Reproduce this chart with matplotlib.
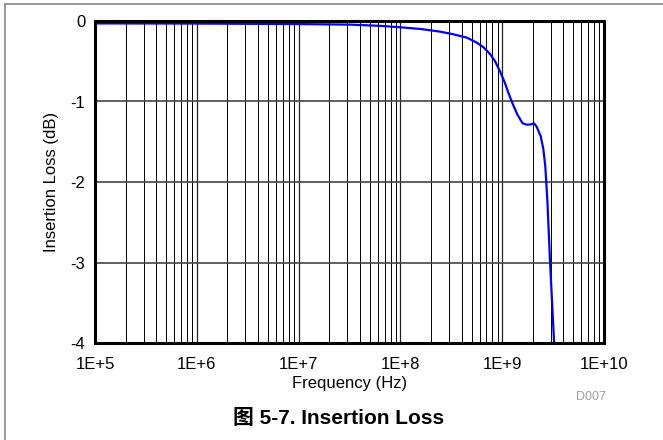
import matplotlib
matplotlib.use("Agg")
import matplotlib.pyplot as plt
from matplotlib.lines import Line2D
from matplotlib.ticker import FixedLocator, FuncFormatter, LogLocator, NullFormatter

plt.rcParams['font.family'] = ['Liberation Sans', 'Noto Sans CJK SC', 'DejaVu Sans']
plt.rcParams['axes.unicode_minus'] = False

# insertion loss curve
freq_hz = [1e5, 1e6, 1e7, 3.2e7, 6.3e7, 1e8, 1.6e8, 2.45e8, 3.31e8, 4.48e8,
           5.62e8, 6.53e8, 7.59e8, 8.51e8, 9.51e8, 1.064e9, 1.148e9, 1.259e9,
           1.406e9, 1.585e9, 1.738e9, 1.905e9, 2.051e9, 2.183e9, 2.388e9,
           2.535e9, 2.649e9, 2.773e9, 2.951e9, 3.236e9]
loss_db = [-0.03, -0.032, -0.038, -0.045, -0.06, -0.078, -0.10, -0.132, -0.165, -0.206,
           -0.268, -0.325, -0.41, -0.50, -0.625, -0.77, -0.89, -1.02,
           -1.16, -1.27, -1.288, -1.285, -1.27, -1.315, -1.43,
           -1.59, -1.80, -2.21, -2.99, -4.0]

x_ticks = [1e5, 1e6, 1e7, 1e8, 1e9, 1e10]
x_labels = ["1E+5", "1E+6", "1E+7", "1E+8", "1E+9", "1E+10"]
y_ticks = [0, -1, -2, -3, -4]

fig = plt.figure(figsize=(6.63, 4.40), dpi=100)
ax = fig.add_axes([95 / 663, 1 - 343 / 440, 509 / 663, 322 / 440])

ax.plot(freq_hz, loss_db, color='#0000ff', lw=1.6, solid_capstyle='butt')

ax.set_xscale('log')
ax.set_xlim(1e5, 1e10)
ax.set_ylim(-4, 0)
ax.xaxis.set_major_locator(FixedLocator(x_ticks))
ax.xaxis.set_major_formatter(FuncFormatter(lambda v, p: x_labels[x_ticks.index(v)] if v in x_ticks else ""))
ax.xaxis.set_minor_locator(LogLocator(base=10, subs=range(2, 10), numticks=50))
ax.xaxis.set_minor_formatter(NullFormatter())
ax.set_yticks(y_ticks)
ax.set_yticklabels([str(v) for v in y_ticks])

ax.grid(True, which='major', axis='x', color='#222222', lw=0.9)
ax.grid(True, which='minor', axis='x', color='#000000', lw=0.7)
ax.grid(True, which='major', axis='y', color='#444444', lw=1.2)
ax.tick_params(which='both', length=0, labelsize=12)
ax.tick_params(axis='x', pad=10)
ax.tick_params(axis='y', pad=7)
for s in ax.spines.values():
    s.set_linewidth(2.2)
    s.set_color('black')

ax.set_xlabel("Frequency (Hz)", fontsize=12, labelpad=3)
ax.set_ylabel("Insertion Loss (dB)", fontsize=12, labelpad=8)

fig.text(606 / 663, 1 - 397 / 440, "D007", fontsize=9, color='#a0a0a0', ha='right', va='center')
fig.text(0.51, 1 - 418 / 440, "图 5-7. Insertion Loss", fontsize=15, fontweight='bold',
         ha='center', va='center')

# frame around the whole figure (only left and top visible)
fig.add_artist(Line2D([5 / 663, 5 / 663], [0, 1 - 4 / 440], color='#888888', lw=1.2))
fig.add_artist(Line2D([5 / 663, 1], [1 - 4 / 440, 1 - 4 / 440], color='#888888', lw=1.2))

fig.savefig("out.png", dpi=100)
